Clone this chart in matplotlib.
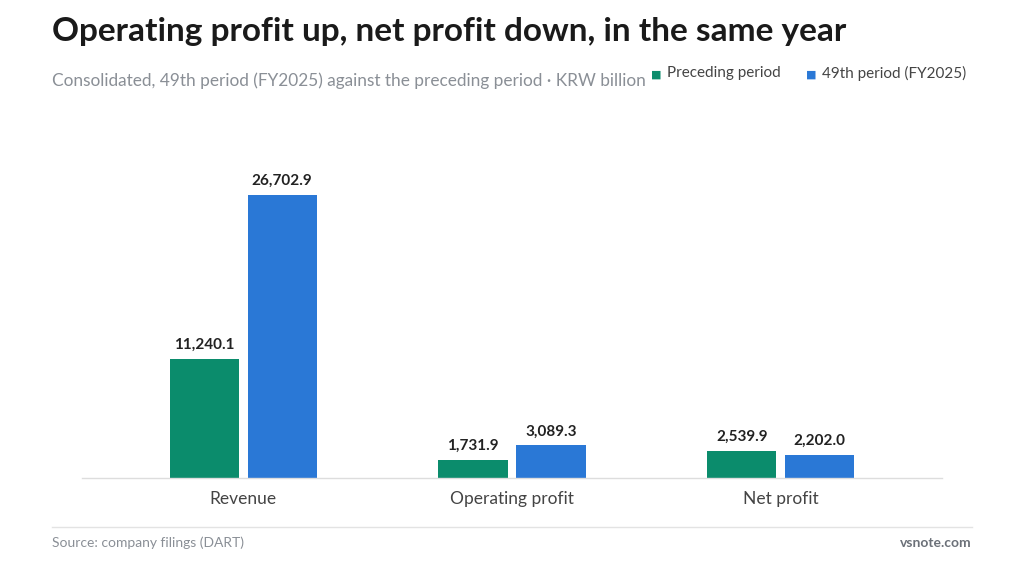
import matplotlib
matplotlib.use('Agg')
from matplotlib import pyplot as plt
import numpy as np

categories = ['Revenue', 'Operating profit', 'Net profit']
preceding = [11240.1, 1731.9, 2539.9]
fy2025 = [26702.9, 3089.3, 2202.0]
series_names = ['Preceding period', '49th period (FY2025)']

GREEN = '#0b8c6c'
BLUE = '#2a78d6'

plt.rcParams['font.family'] = ['Lato', 'DejaVu Sans']

fig = plt.figure(figsize=(10.24, 5.76), dpi=100)
ax = fig.add_axes([0.080, 0.170, 0.840, 0.570])

x = np.arange(len(categories))
w = 0.258
off = 0.145
b1 = ax.bar(x - off, preceding, w, color=GREEN)
b2 = ax.bar(x + off, fy2025, w, color=BLUE)

for bars, vals in ((b1, preceding), (b2, fy2025)):
    for bar, v in zip(bars, vals):
        ax.annotate(f'{v:,.1f}', (bar.get_x() + bar.get_width() / 2, v),
                    xytext=(0, 5), textcoords='offset points',
                    ha='center', va='bottom', fontsize=11, fontweight='bold',
                    color='#222222')

ax.set_xlim(-0.6, 2.6)
ax.set_ylim(0, 30950)
ax.set_xticks(x)
ax.set_xticklabels(categories, fontsize=12.5, color='#444444')
ax.tick_params(axis='x', length=0, pad=9)
ax.set_yticks([])
for s in ['top', 'right', 'left']:
    ax.spines[s].set_visible(False)
ax.spines['bottom'].set_color('#dddddd')
ax.spines['bottom'].set_linewidth(1)

fig.text(52 / 1024, 1 - 32 / 576, 'Operating profit up, net profit down, in the same year',
         fontsize=24, fontweight='bold', color='#1a1a1a', va='center', ha='left')
fig.text(52 / 1024, 1 - 81 / 576,
         'Consolidated, 49th period (FY2025) against the preceding period \u00b7 KRW billion',
         fontsize=12.4, color='#8a8f96', va='center', ha='left')

# legend
for xs, name, col in ((651, series_names[0], GREEN), (806, series_names[1], BLUE)):
    fig.text(xs / 1024, 1 - 75 / 576, '\u25a0', fontsize=8, color=col,
             va='center', ha='left', family=['DejaVu Sans'])
    fig.text((xs + 16) / 1024, 1 - 73 / 576, name, fontsize=11,
             color='#444444', va='center', ha='left')

fig.add_artist(plt.Line2D([52 / 1024, 972 / 1024], [1 - 527 / 576, 1 - 527 / 576],
                          color='#e3e3e3', linewidth=1))
fig.text(52 / 1024, 1 - 543 / 576, 'Source: company filings (DART)',
         fontsize=10, color='#8a8f96', va='center', ha='left')
fig.text(972 / 1024, 1 - 543 / 576, 'vsnote.com',
         fontsize=10, fontweight='bold', color='#6b7078', va='center', ha='right')

fig.savefig('out.png', dpi=100, facecolor='white')
plt.close(fig)
